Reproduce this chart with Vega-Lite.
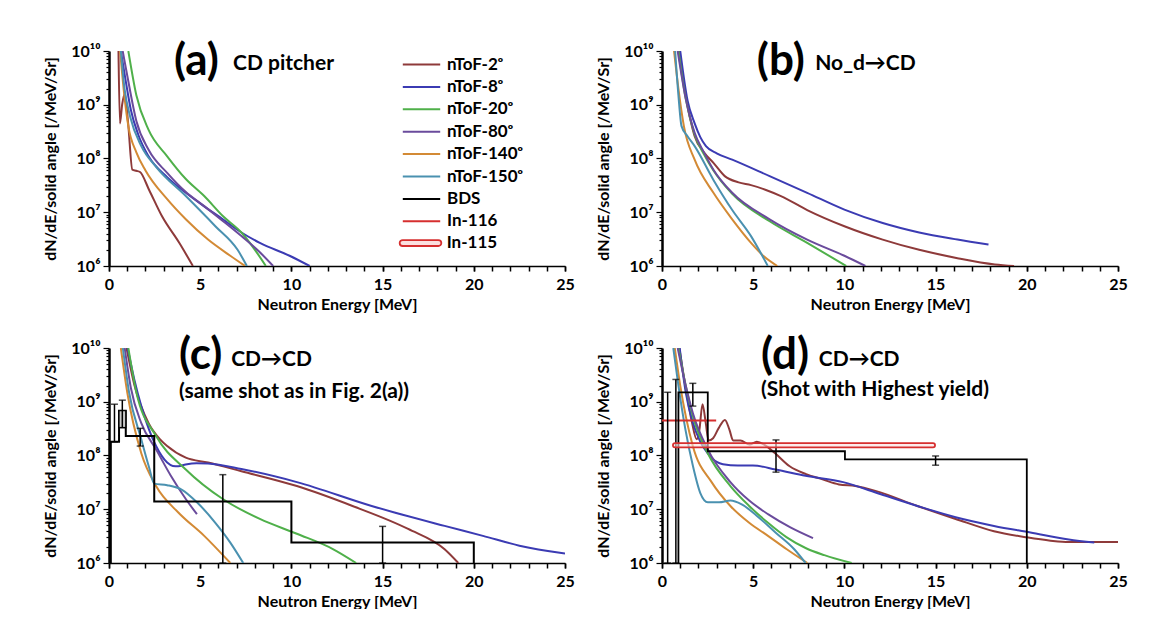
{
  "$schema": "https://vega.github.io/schema/vega-lite/v6.json",
  "padding": {"left": 42, "top": 39, "right": 0, "bottom": 0},
  "background": "white",
  "columns": 2,
  "spacing": {"row": 82, "column": 97},
  "bounds": "flush",
  "datasets": {
    "curves": [
      {"p":"a","s":"nToF-2ᵒ","E":0.52,"v":1e10},{"p":"a","s":"nToF-2ᵒ","E":0.6,"v":4.5e8},{"p":"a","s":"nToF-2ᵒ","E":0.72,"v":1e9},{"p":"a","s":"nToF-2ᵒ","E":0.87,"v":1.6e9},{"p":"a","s":"nToF-2ᵒ","E":1.05,"v":4.5e8},{"p":"a","s":"nToF-2ᵒ","E":1.28,"v":6.2e7},{"p":"a","s":"nToF-2ᵒ","E":1.5,"v":5.9e7},{"p":"a","s":"nToF-2ᵒ","E":1.7,"v":5.6e7},{"p":"a","s":"nToF-2ᵒ","E":2.2,"v":2.6e7},{"p":"a","s":"nToF-2ᵒ","E":2.9,"v":8.5e6},{"p":"a","s":"nToF-2ᵒ","E":3.85,"v":2.7e6},{"p":"a","s":"nToF-2ᵒ","E":4.6,"v":1e6},
      {"p":"a","s":"nToF-8ᵒ","E":0.65,"v":1e10},{"p":"a","s":"nToF-8ᵒ","E":0.9,"v":3e9},{"p":"a","s":"nToF-8ᵒ","E":1.2,"v":8e8},{"p":"a","s":"nToF-8ᵒ","E":1.6,"v":2.8e8},{"p":"a","s":"nToF-8ᵒ","E":2.17,"v":1.1e8},{"p":"a","s":"nToF-8ᵒ","E":3.19,"v":4.5e7},{"p":"a","s":"nToF-8ᵒ","E":4.21,"v":2.3e7},{"p":"a","s":"nToF-8ᵒ","E":5.2,"v":1.3e7},{"p":"a","s":"nToF-8ᵒ","E":6.24,"v":7.4e6},{"p":"a","s":"nToF-8ᵒ","E":7.26,"v":4.2e6},{"p":"a","s":"nToF-8ᵒ","E":8.27,"v":2.7e6},{"p":"a","s":"nToF-8ᵒ","E":9.9,"v":1.55e6},{"p":"a","s":"nToF-8ᵒ","E":11.0,"v":1e6},
      {"p":"a","s":"nToF-20ᵒ","E":1.06,"v":1e10},{"p":"a","s":"nToF-20ᵒ","E":1.5,"v":1.5e9},{"p":"a","s":"nToF-20ᵒ","E":2.17,"v":3.4e8},{"p":"a","s":"nToF-20ᵒ","E":3.19,"v":1.1e8},{"p":"a","s":"nToF-20ᵒ","E":4.2,"v":4.2e7},{"p":"a","s":"nToF-20ᵒ","E":5.22,"v":2e7},{"p":"a","s":"nToF-20ᵒ","E":6.24,"v":8.5e6},{"p":"a","s":"nToF-20ᵒ","E":7.26,"v":4.2e6},{"p":"a","s":"nToF-20ᵒ","E":8.0,"v":2e6},{"p":"a","s":"nToF-20ᵒ","E":8.6,"v":1e6},
      {"p":"a","s":"nToF-80ᵒ","E":0.75,"v":1e10},{"p":"a","s":"nToF-80ᵒ","E":1.0,"v":3.5e9},{"p":"a","s":"nToF-80ᵒ","E":1.5,"v":5e8},{"p":"a","s":"nToF-80ᵒ","E":2.17,"v":1.45e8},{"p":"a","s":"nToF-80ᵒ","E":3.19,"v":5.4e7},{"p":"a","s":"nToF-80ᵒ","E":4.2,"v":2.4e7},{"p":"a","s":"nToF-80ᵒ","E":5.22,"v":1.3e7},{"p":"a","s":"nToF-80ᵒ","E":6.24,"v":6.9e6},{"p":"a","s":"nToF-80ᵒ","E":7.26,"v":3.6e6},{"p":"a","s":"nToF-80ᵒ","E":8.2,"v":1.9e6},{"p":"a","s":"nToF-80ᵒ","E":9.0,"v":1e6},
      {"p":"a","s":"nToF-140ᵒ","E":0.61,"v":1e10},{"p":"a","s":"nToF-140ᵒ","E":0.8,"v":2e9},{"p":"a","s":"nToF-140ᵒ","E":1.06,"v":4e8},{"p":"a","s":"nToF-140ᵒ","E":1.5,"v":1.3e8},{"p":"a","s":"nToF-140ᵒ","E":2.0,"v":6e7},{"p":"a","s":"nToF-140ᵒ","E":3.19,"v":1.75e7},{"p":"a","s":"nToF-140ᵒ","E":4.21,"v":7.4e6},{"p":"a","s":"nToF-140ᵒ","E":5.43,"v":3.1e6},{"p":"a","s":"nToF-140ᵒ","E":6.65,"v":1.55e6},{"p":"a","s":"nToF-140ᵒ","E":7.46,"v":1e6},
      {"p":"a","s":"nToF-150ᵒ","E":0.65,"v":1e10},{"p":"a","s":"nToF-150ᵒ","E":0.85,"v":2e9},{"p":"a","s":"nToF-150ᵒ","E":1.16,"v":6e8},{"p":"a","s":"nToF-150ᵒ","E":1.77,"v":1.7e8},{"p":"a","s":"nToF-150ᵒ","E":2.58,"v":7e7},{"p":"a","s":"nToF-150ᵒ","E":4.21,"v":2e7},{"p":"a","s":"nToF-150ᵒ","E":5.83,"v":5.5e6},{"p":"a","s":"nToF-150ᵒ","E":7.05,"v":2e6},{"p":"a","s":"nToF-150ᵒ","E":7.56,"v":1e6},

      {"p":"b","s":"nToF-2ᵒ","E":0.93,"v":1e10},{"p":"b","s":"nToF-2ᵒ","E":1.3,"v":1.5e9},{"p":"b","s":"nToF-2ᵒ","E":1.79,"v":2.6e8},{"p":"b","s":"nToF-2ᵒ","E":2.3,"v":1.3e8},{"p":"b","s":"nToF-2ᵒ","E":2.82,"v":8.3e7},{"p":"b","s":"nToF-2ᵒ","E":3.44,"v":4.7e7},{"p":"b","s":"nToF-2ᵒ","E":4.2,"v":3.6e7},{"p":"b","s":"nToF-2ᵒ","E":4.88,"v":3.2e7},{"p":"b","s":"nToF-2ᵒ","E":5.7,"v":2.6e7},{"p":"b","s":"nToF-2ᵒ","E":6.52,"v":2e7},{"p":"b","s":"nToF-2ᵒ","E":7.96,"v":1.1e7},{"p":"b","s":"nToF-2ᵒ","E":10.0,"v":5.5e6},{"p":"b","s":"nToF-2ᵒ","E":12.1,"v":3.1e6},{"p":"b","s":"nToF-2ᵒ","E":14.1,"v":2e6},{"p":"b","s":"nToF-2ᵒ","E":16.2,"v":1.4e6},{"p":"b","s":"nToF-2ᵒ","E":18.25,"v":1.07e6},{"p":"b","s":"nToF-2ᵒ","E":19.3,"v":1e6},
      {"p":"b","s":"nToF-8ᵒ","E":1.0,"v":1e10},{"p":"b","s":"nToF-8ᵒ","E":1.4,"v":1.2e9},{"p":"b","s":"nToF-8ᵒ","E":1.79,"v":4.5e8},{"p":"b","s":"nToF-8ᵒ","E":2.1,"v":2.5e8},{"p":"b","s":"nToF-8ᵒ","E":2.41,"v":1.7e8},{"p":"b","s":"nToF-8ᵒ","E":3.0,"v":1.25e8},{"p":"b","s":"nToF-8ᵒ","E":3.85,"v":9.5e7},{"p":"b","s":"nToF-8ᵒ","E":5.9,"v":4.7e7},{"p":"b","s":"nToF-8ᵒ","E":7.96,"v":2.3e7},{"p":"b","s":"nToF-8ᵒ","E":10.0,"v":1.12e7},{"p":"b","s":"nToF-8ᵒ","E":12.1,"v":6.3e6},{"p":"b","s":"nToF-8ᵒ","E":14.1,"v":4.2e6},{"p":"b","s":"nToF-8ᵒ","E":16.2,"v":3.1e6},{"p":"b","s":"nToF-8ᵒ","E":17.9,"v":2.5e6},
      {"p":"b","s":"nToF-20ᵒ","E":0.9,"v":1e10},{"p":"b","s":"nToF-20ᵒ","E":1.3,"v":1.3e9},{"p":"b","s":"nToF-20ᵒ","E":1.79,"v":2.8e8},{"p":"b","s":"nToF-20ᵒ","E":2.3,"v":1.2e8},{"p":"b","s":"nToF-20ᵒ","E":2.82,"v":6e7},{"p":"b","s":"nToF-20ᵒ","E":3.85,"v":2.2e7},{"p":"b","s":"nToF-20ᵒ","E":5.9,"v":6.8e6},{"p":"b","s":"nToF-20ᵒ","E":7.96,"v":2.7e6},{"p":"b","s":"nToF-20ᵒ","E":10.1,"v":1e6},
      {"p":"b","s":"nToF-80ᵒ","E":0.86,"v":1e10},{"p":"b","s":"nToF-80ᵒ","E":1.3,"v":1.3e9},{"p":"b","s":"nToF-80ᵒ","E":1.79,"v":3e8},{"p":"b","s":"nToF-80ᵒ","E":2.3,"v":1.3e8},{"p":"b","s":"nToF-80ᵒ","E":2.82,"v":6.2e7},{"p":"b","s":"nToF-80ᵒ","E":3.85,"v":2.3e7},{"p":"b","s":"nToF-80ᵒ","E":5.9,"v":7.4e6},{"p":"b","s":"nToF-80ᵒ","E":7.96,"v":3.1e6},{"p":"b","s":"nToF-80ᵒ","E":10.0,"v":1.55e6},{"p":"b","s":"nToF-80ᵒ","E":11.15,"v":1e6},
      {"p":"b","s":"nToF-140ᵒ","E":0.66,"v":1e10},{"p":"b","s":"nToF-140ᵒ","E":0.9,"v":2e9},{"p":"b","s":"nToF-140ᵒ","E":1.2,"v":4e8},{"p":"b","s":"nToF-140ᵒ","E":1.79,"v":9.5e7},{"p":"b","s":"nToF-140ᵒ","E":2.82,"v":2.3e7},{"p":"b","s":"nToF-140ᵒ","E":3.85,"v":7.4e6},{"p":"b","s":"nToF-140ᵒ","E":4.88,"v":2.7e6},{"p":"b","s":"nToF-140ᵒ","E":5.6,"v":1.5e6},{"p":"b","s":"nToF-140ᵒ","E":6.32,"v":1e6},
      {"p":"b","s":"nToF-150ᵒ","E":0.72,"v":1e10},{"p":"b","s":"nToF-150ᵒ","E":0.9,"v":1.5e9},{"p":"b","s":"nToF-150ᵒ","E":1.07,"v":4e8},{"p":"b","s":"nToF-150ᵒ","E":1.4,"v":2.6e8},{"p":"b","s":"nToF-150ᵒ","E":1.79,"v":1.7e8},{"p":"b","s":"nToF-150ᵒ","E":2.82,"v":4e7},{"p":"b","s":"nToF-150ᵒ","E":3.85,"v":1.1e7},{"p":"b","s":"nToF-150ᵒ","E":4.88,"v":3.6e6},{"p":"b","s":"nToF-150ᵒ","E":5.8,"v":1e6},

      {"p":"c","s":"nToF-2ᵒ","E":0.96,"v":1e10},{"p":"c","s":"nToF-2ᵒ","E":1.4,"v":2e9},{"p":"c","s":"nToF-2ᵒ","E":2.17,"v":4e8},{"p":"c","s":"nToF-2ᵒ","E":2.8,"v":2e8},{"p":"c","s":"nToF-2ᵒ","E":3.19,"v":1.5e8},{"p":"c","s":"nToF-2ᵒ","E":4.21,"v":9.1e7},{"p":"c","s":"nToF-2ᵒ","E":5.43,"v":7.4e7},{"p":"c","s":"nToF-2ᵒ","E":7.26,"v":5.1e7},{"p":"c","s":"nToF-2ᵒ","E":10.3,"v":2.7e7},{"p":"c","s":"nToF-2ᵒ","E":13.35,"v":1.15e7},{"p":"c","s":"nToF-2ᵒ","E":16.4,"v":4.3e6},{"p":"c","s":"nToF-2ᵒ","E":18.4,"v":1.8e6},{"p":"c","s":"nToF-2ᵒ","E":19.15,"v":1e6},
      {"p":"c","s":"nToF-8ᵒ","E":1.02,"v":1e10},{"p":"c","s":"nToF-8ᵒ","E":1.4,"v":2.5e9},{"p":"c","s":"nToF-8ᵒ","E":1.77,"v":8.3e8},{"p":"c","s":"nToF-8ᵒ","E":2.2,"v":3e8},{"p":"c","s":"nToF-8ᵒ","E":2.58,"v":1.5e8},{"p":"c","s":"nToF-8ᵒ","E":3.19,"v":7.4e7},{"p":"c","s":"nToF-8ᵒ","E":3.5,"v":6.4e7},{"p":"c","s":"nToF-8ᵒ","E":3.8,"v":6.3e7},{"p":"c","s":"nToF-8ᵒ","E":4.2,"v":6.8e7},{"p":"c","s":"nToF-8ᵒ","E":4.8,"v":7.2e7},{"p":"c","s":"nToF-8ᵒ","E":5.43,"v":7.1e7},{"p":"c","s":"nToF-8ᵒ","E":7.26,"v":5.6e7},{"p":"c","s":"nToF-8ᵒ","E":10.3,"v":3.2e7},{"p":"c","s":"nToF-8ᵒ","E":14.4,"v":1.15e7},{"p":"c","s":"nToF-8ᵒ","E":18.4,"v":4.9e6},{"p":"c","s":"nToF-8ᵒ","E":20.5,"v":3.2e6},{"p":"c","s":"nToF-8ᵒ","E":22.5,"v":2.1e6},{"p":"c","s":"nToF-8ᵒ","E":25,"v":1.5e6},
      {"p":"c","s":"nToF-20ᵒ","E":1.06,"v":1e10},{"p":"c","s":"nToF-20ᵒ","E":1.5,"v":1.5e9},{"p":"c","s":"nToF-20ᵒ","E":2.58,"v":2.3e8},{"p":"c","s":"nToF-20ᵒ","E":4.21,"v":5.5e7},{"p":"c","s":"nToF-20ᵒ","E":6.24,"v":1.55e7},{"p":"c","s":"nToF-20ᵒ","E":8.27,"v":6.6e6},{"p":"c","s":"nToF-20ᵒ","E":10.3,"v":3.5e6},{"p":"c","s":"nToF-20ᵒ","E":12.3,"v":1.8e6},{"p":"c","s":"nToF-20ᵒ","E":13.55,"v":1e6},
      {"p":"c","s":"nToF-80ᵒ","E":0.86,"v":1e10},{"p":"c","s":"nToF-80ᵒ","E":1.2,"v":1.8e9},{"p":"c","s":"nToF-80ᵒ","E":1.77,"v":4e8},{"p":"c","s":"nToF-80ᵒ","E":2.58,"v":1.3e8},{"p":"c","s":"nToF-80ᵒ","E":3.39,"v":4.2e7},{"p":"c","s":"nToF-80ᵒ","E":4.21,"v":1.55e7},{"p":"c","s":"nToF-80ᵒ","E":4.82,"v":8.1e6},
      {"p":"c","s":"nToF-140ᵒ","E":0.65,"v":1e10},{"p":"c","s":"nToF-140ᵒ","E":1.0,"v":1.5e9},{"p":"c","s":"nToF-140ᵒ","E":1.77,"v":1.1e8},{"p":"c","s":"nToF-140ᵒ","E":2.58,"v":2.7e7},{"p":"c","s":"nToF-140ᵒ","E":3.8,"v":8.7e6},{"p":"c","s":"nToF-140ᵒ","E":5.22,"v":3.2e6},{"p":"c","s":"nToF-140ᵒ","E":6.65,"v":1e6},
      {"p":"c","s":"nToF-150ᵒ","E":0.76,"v":1e10},{"p":"c","s":"nToF-150ᵒ","E":1.1,"v":1.5e9},{"p":"c","s":"nToF-150ᵒ","E":1.77,"v":2e8},{"p":"c","s":"nToF-150ᵒ","E":2.2,"v":6e7},{"p":"c","s":"nToF-150ᵒ","E":2.48,"v":3e7},{"p":"c","s":"nToF-150ᵒ","E":3.19,"v":2.8e7},{"p":"c","s":"nToF-150ᵒ","E":4.0,"v":2.3e7},{"p":"c","s":"nToF-150ᵒ","E":4.82,"v":1.35e7},{"p":"c","s":"nToF-150ᵒ","E":5.83,"v":5.6e6},{"p":"c","s":"nToF-150ᵒ","E":6.65,"v":2.4e6},{"p":"c","s":"nToF-150ᵒ","E":7.36,"v":1e6},

      {"p":"d","s":"nToF-2ᵒ","E":0.95,"v":1e10},{"p":"d","s":"nToF-2ᵒ","E":1.3,"v":1.8e9},{"p":"d","s":"nToF-2ᵒ","E":1.65,"v":4e8},{"p":"d","s":"nToF-2ᵒ","E":1.9,"v":2e8},{"p":"d","s":"nToF-2ᵒ","E":2.05,"v":3e8},{"p":"d","s":"nToF-2ᵒ","E":2.22,"v":9e8},{"p":"d","s":"nToF-2ᵒ","E":2.4,"v":4e8},{"p":"d","s":"nToF-2ᵒ","E":2.55,"v":1.9e8},{"p":"d","s":"nToF-2ᵒ","E":2.8,"v":2.1e8},{"p":"d","s":"nToF-2ᵒ","E":3.1,"v":3.2e8},{"p":"d","s":"nToF-2ᵒ","E":3.45,"v":4.6e8},{"p":"d","s":"nToF-2ᵒ","E":3.7,"v":3e8},{"p":"d","s":"nToF-2ᵒ","E":3.9,"v":1.9e8},{"p":"d","s":"nToF-2ᵒ","E":4.3,"v":1.9e8},{"p":"d","s":"nToF-2ᵒ","E":4.8,"v":1.6e8},{"p":"d","s":"nToF-2ᵒ","E":5.2,"v":1.8e8},{"p":"d","s":"nToF-2ᵒ","E":5.6,"v":1.6e8},{"p":"d","s":"nToF-2ᵒ","E":6.2,"v":1.1e8},{"p":"d","s":"nToF-2ᵒ","E":7.0,"v":6.3e7},{"p":"d","s":"nToF-2ᵒ","E":7.9,"v":4.5e7},{"p":"d","s":"nToF-2ᵒ","E":8.8,"v":3.6e7},{"p":"d","s":"nToF-2ᵒ","E":9.7,"v":2.9e7},{"p":"d","s":"nToF-2ᵒ","E":10.6,"v":2.7e7},{"p":"d","s":"nToF-2ᵒ","E":11.7,"v":2.2e7},{"p":"d","s":"nToF-2ᵒ","E":14.0,"v":1.15e7},{"p":"d","s":"nToF-2ᵒ","E":16.1,"v":6.6e6},{"p":"d","s":"nToF-2ᵒ","E":18.2,"v":3.9e6},{"p":"d","s":"nToF-2ᵒ","E":20.0,"v":3e6},{"p":"d","s":"nToF-2ᵒ","E":21.3,"v":2.6e6},{"p":"d","s":"nToF-2ᵒ","E":22.3,"v":2.45e6},{"p":"d","s":"nToF-2ᵒ","E":25,"v":2.45e6},
      {"p":"d","s":"nToF-8ᵒ","E":0.97,"v":1e10},{"p":"d","s":"nToF-8ᵒ","E":1.3,"v":1.5e9},{"p":"d","s":"nToF-8ᵒ","E":1.69,"v":4.1e8},{"p":"d","s":"nToF-8ᵒ","E":2.1,"v":1.8e8},{"p":"d","s":"nToF-8ᵒ","E":2.51,"v":1.1e8},{"p":"d","s":"nToF-8ᵒ","E":3.0,"v":7.6e7},{"p":"d","s":"nToF-8ᵒ","E":3.34,"v":6.9e7},{"p":"d","s":"nToF-8ᵒ","E":4.16,"v":6.5e7},{"p":"d","s":"nToF-8ᵒ","E":4.98,"v":6.5e7},{"p":"d","s":"nToF-8ᵒ","E":6.22,"v":5.5e7},{"p":"d","s":"nToF-8ᵒ","E":7.87,"v":4.2e7},{"p":"d","s":"nToF-8ᵒ","E":9.93,"v":3.2e7},{"p":"d","s":"nToF-8ᵒ","E":12.0,"v":1.9e7},{"p":"d","s":"nToF-8ᵒ","E":14.0,"v":1.15e7},{"p":"d","s":"nToF-8ᵒ","E":16.1,"v":7.1e6},{"p":"d","s":"nToF-8ᵒ","E":18.2,"v":4.9e6},{"p":"d","s":"nToF-8ᵒ","E":20.2,"v":3.7e6},{"p":"d","s":"nToF-8ᵒ","E":22.3,"v":2.75e6},{"p":"d","s":"nToF-8ᵒ","E":23.7,"v":2.4e6},
      {"p":"d","s":"nToF-20ᵒ","E":0.9,"v":1e10},{"p":"d","s":"nToF-20ᵒ","E":1.3,"v":2e9},{"p":"d","s":"nToF-20ᵒ","E":1.69,"v":5.4e8},{"p":"d","s":"nToF-20ᵒ","E":2.51,"v":1.1e8},{"p":"d","s":"nToF-20ᵒ","E":3.75,"v":2.7e7},{"p":"d","s":"nToF-20ᵒ","E":4.78,"v":1.15e7},{"p":"d","s":"nToF-20ᵒ","E":5.81,"v":5.6e6},{"p":"d","s":"nToF-20ᵒ","E":6.84,"v":3e6},{"p":"d","s":"nToF-20ᵒ","E":7.87,"v":1.9e6},{"p":"d","s":"nToF-20ᵒ","E":8.9,"v":1.4e6},{"p":"d","s":"nToF-20ᵒ","E":10.4,"v":1e6},
      {"p":"d","s":"nToF-80ᵒ","E":0.86,"v":1e10},{"p":"d","s":"nToF-80ᵒ","E":1.3,"v":2e9},{"p":"d","s":"nToF-80ᵒ","E":1.69,"v":6.2e8},{"p":"d","s":"nToF-80ᵒ","E":2.51,"v":1.3e8},{"p":"d","s":"nToF-80ᵒ","E":3.75,"v":3.2e7},{"p":"d","s":"nToF-80ᵒ","E":4.78,"v":1.45e7},{"p":"d","s":"nToF-80ᵒ","E":5.81,"v":8.1e6},{"p":"d","s":"nToF-80ᵒ","E":7.04,"v":4.6e6},{"p":"d","s":"nToF-80ᵒ","E":8.28,"v":2.9e6},
      {"p":"d","s":"nToF-140ᵒ","E":0.7,"v":1e10},{"p":"d","s":"nToF-140ᵒ","E":1.0,"v":2e9},{"p":"d","s":"nToF-140ᵒ","E":1.69,"v":1.5e8},{"p":"d","s":"nToF-140ᵒ","E":2.72,"v":3.2e7},{"p":"d","s":"nToF-140ᵒ","E":3.75,"v":1.15e7},{"p":"d","s":"nToF-140ᵒ","E":4.78,"v":5.6e6},{"p":"d","s":"nToF-140ᵒ","E":5.81,"v":3.2e6},{"p":"d","s":"nToF-140ᵒ","E":6.84,"v":1.8e6},{"p":"d","s":"nToF-140ᵒ","E":7.97,"v":1e6},
      {"p":"d","s":"nToF-150ᵒ","E":0.62,"v":1e10},{"p":"d","s":"nToF-150ᵒ","E":0.9,"v":2e9},{"p":"d","s":"nToF-150ᵒ","E":1.28,"v":3.1e8},{"p":"d","s":"nToF-150ᵒ","E":1.69,"v":6.5e7},{"p":"d","s":"nToF-150ᵒ","E":2.1,"v":2e7},{"p":"d","s":"nToF-150ᵒ","E":2.51,"v":1.35e7},{"p":"d","s":"nToF-150ᵒ","E":3.13,"v":1.35e7},{"p":"d","s":"nToF-150ᵒ","E":3.75,"v":1.45e7},{"p":"d","s":"nToF-150ᵒ","E":4.37,"v":1.23e7},{"p":"d","s":"nToF-150ᵒ","E":5.19,"v":7.6e6},{"p":"d","s":"nToF-150ᵒ","E":6.22,"v":3.7e6},{"p":"d","s":"nToF-150ᵒ","E":7.25,"v":1.8e6},{"p":"d","s":"nToF-150ᵒ","E":7.87,"v":1e6},
      {"p":"d","s":"In-116","E":0,"v":4.5e8},{"p":"d","s":"In-116","E":2.97,"v":4.5e8}
    ],
    "bds": [
      {"p":"c","s":"BDS","o":1,"E":0.1,"v":1e6},{"p":"c","s":"BDS","o":2,"E":0.1,"v":1.8e8},{"p":"c","s":"BDS","o":3,"E":0.55,"v":1.8e8},{"p":"c","s":"BDS","o":4,"E":0.55,"v":6.8e8},{"p":"c","s":"BDS","o":5,"E":0.92,"v":6.8e8},{"p":"c","s":"BDS","o":6,"E":0.92,"v":2.3e8},{"p":"c","s":"BDS","o":7,"E":2.48,"v":2.3e8},{"p":"c","s":"BDS","o":8,"E":2.48,"v":1.4e7},{"p":"c","s":"BDS","o":9,"E":10,"v":1.4e7},{"p":"c","s":"BDS","o":10,"E":10,"v":2.4e6},{"p":"c","s":"BDS","o":11,"E":20,"v":2.4e6},{"p":"c","s":"BDS","o":12,"E":20,"v":1e6},
      {"p":"d","s":"BDS","o":1,"E":0.9,"v":1e6},{"p":"d","s":"BDS","o":2,"E":0.9,"v":1.5e9},{"p":"d","s":"BDS","o":3,"E":2.51,"v":1.5e9},{"p":"d","s":"BDS","o":4,"E":2.51,"v":1.2e8},{"p":"d","s":"BDS","o":5,"E":10.03,"v":1.2e8},{"p":"d","s":"BDS","o":6,"E":10.03,"v":8.5e7},{"p":"d","s":"BDS","o":7,"E":20,"v":8.5e7},{"p":"d","s":"BDS","o":8,"E":20,"v":1e6}
    ],
    "err": [
      {"p":"c","E":0.3,"v":1.8e8,"v2":9e8},{"p":"c","E":0.73,"v":3.3e8,"v2":1.07e9},{"p":"c","E":1.71,"v":1.5e8,"v2":3.2e8},{"p":"c","E":6.24,"v":1e6,"v2":4.4e7},{"p":"c","E":15.0,"v":1e6,"v2":4.8e6},
      {"p":"d","E":0.31,"v":1e6,"v2":1.5e9},{"p":"d","E":0.76,"v":1e6,"v2":2.6e9},{"p":"d","E":1.69,"v":8.3e8,"v2":2.2e9},{"p":"d","E":6.25,"v":4.9e7,"v2":1.95e8},{"p":"d","E":15.0,"v":6.6e7,"v2":9.8e7}
    ],
    "box": [
      {"p":"c","E":0.55,"E2":0.92,"v":3.3e8,"v2":6.8e8}
    ],
    "in115": [
      {"p":"d","s":"In-115","E":0.6,"E2":14.97,"v":1.42e8,"v2":1.7e8}
    ],
    "labels": [
      {"p":"a","k":"big","t":"(a)","E":3.56,"v":6.3e9},{"p":"a","k":"small","t":"CD pitcher","E":6.8,"v":5.7e9},
      {"p":"b","k":"big","t":"(b)","E":5.2,"v":6.3e9},{"p":"b","k":"small","t":"No_d→CD","E":8.4,"v":5.7e9},
      {"p":"c","k":"big","t":"(c)","E":3.84,"v":7e9},{"p":"c","k":"small","t":"CD→CD","E":6.7,"v":6e9},{"p":"c","k":"small","t":"(same shot as in Fig. 2(a))","E":3.84,"v":1.55e9},
      {"p":"d","k":"big","t":"(d)","E":5.43,"v":7e9},{"p":"d","k":"small","t":"CD→CD","E":8.6,"v":6e9},{"p":"d","k":"small","t":"(Shot with Highest yield)","E":5.43,"v":1.65e9}
    ]
  },
  "concat": [
    {
      "width": 456, "height": 215,
      "resolve": {"axis": {"x": "independent"}},
      "layer": [
        {"data":{"name":"curves"},"transform":[{"filter":"datum.p == 'a'"}],
         "mark":{"type":"line","strokeWidth":2,"clip":true,"interpolate":"monotone"},
         "encoding":{
           "x":{"field":"E","type":"quantitative","scale":{"domain":[0,25],"nice":false,"zero":false},"axis":{"title":"Neutron Energy [MeV]","orient":"bottom","values":[0,5,10,15,20,25]}},
           "y":{"field":"v","type":"quantitative","scale":{"type":"log","domain":[1e6,1e10],"nice":false},"axis":{"title":"dN/dE/solid angle [/MeV/Sr]","values":[1e6,2e6,3e6,4e6,5e6,6e6,7e6,8e6,9e6,1e7,2e7,3e7,4e7,5e7,6e7,7e7,8e7,9e7,1e8,2e8,3e8,4e8,5e8,6e8,7e8,8e8,9e8,1e9,2e9,3e9,4e9,5e9,6e9,7e9,8e9,9e9,1e10],"labelExpr":"datum.value == 10000000000 ? '10¹⁰' : datum.value == 1000000000 ? '10⁹' : datum.value == 100000000 ? '10⁸' : datum.value == 10000000 ? '10⁷' : datum.value == 1000000 ? '10⁶' : ''","labelOverlap":"greedy","tickSize":{"condition":{"test":"abs(log(datum.value)/LN10 - round(log(datum.value)/LN10)) < 0.001","value":6},"value":3}}},
           "color":{"field":"s","type":"nominal","scale":{"domain":["nToF-2ᵒ","nToF-8ᵒ","nToF-20ᵒ","nToF-80ᵒ","nToF-140ᵒ","nToF-150ᵒ","BDS","In-116"],"range":["#8e3a3a","#3b3bb3","#4fb04a","#6a4b9c","#d38a35","#4a91b0","#000000","#d62f2f"]},
             "legend":{"title":null,"orient":"none","legendX":303,"legendY":4,"symbolType":"M-2.2,0H2.2","labelOffset":16,"rowPadding":4.4}}
         }},
        {"data":{"name":"labels"},"transform":[{"filter":"datum.p == 'a' && datum.k == 'big'"}],
         "mark":{"type":"text","align":"left","baseline":"middle","fontSize":44,"fontWeight":"bold","color":"black"},
         "encoding":{"x":{"field":"E","type":"quantitative","scale":{"domain":[0,25],"nice":false,"zero":false},"axis":{"title":null,"orient":"bottom","values":[0,1,2,3,4,5,6,7,8,9,10,11,12,13,14,15,16,17,18,19,20,21,22,23,24,25],"labels":false,"domain":false}},"y":{"field":"v","type":"quantitative","scale":{"type":"log","domain":[1e6,1e10],"nice":false}},"text":{"field":"t"}}},
        {"data":{"name":"labels"},"transform":[{"filter":"datum.p == 'a' && datum.k == 'small'"}],
         "mark":{"type":"text","align":"left","baseline":"middle","fontSize":21,"fontWeight":"bold","color":"black"},
         "encoding":{"x":{"field":"E","type":"quantitative","scale":{"domain":[0,25],"nice":false,"zero":false},"axis":null},"y":{"field":"v","type":"quantitative","scale":{"type":"log","domain":[1e6,1e10],"nice":false}},"text":{"field":"t"}}}
      ]
    },
    {
      "width": 456, "height": 215,
      "resolve": {"axis": {"x": "independent"}},
      "layer": [
        {"data":{"name":"curves"},"transform":[{"filter":"datum.p == 'b'"}],
         "mark":{"type":"line","strokeWidth":2,"clip":true,"interpolate":"monotone"},
         "encoding":{
           "x":{"field":"E","type":"quantitative","scale":{"domain":[0,25],"nice":false,"zero":false},"axis":{"title":"Neutron Energy [MeV]","orient":"bottom","values":[0,5,10,15,20,25]}},
           "y":{"field":"v","type":"quantitative","scale":{"type":"log","domain":[1e6,1e10],"nice":false},"axis":{"title":"dN/dE/solid angle [/MeV/Sr]","values":[1e6,2e6,3e6,4e6,5e6,6e6,7e6,8e6,9e6,1e7,2e7,3e7,4e7,5e7,6e7,7e7,8e7,9e7,1e8,2e8,3e8,4e8,5e8,6e8,7e8,8e8,9e8,1e9,2e9,3e9,4e9,5e9,6e9,7e9,8e9,9e9,1e10],"labelExpr":"datum.value == 10000000000 ? '10¹⁰' : datum.value == 1000000000 ? '10⁹' : datum.value == 100000000 ? '10⁸' : datum.value == 10000000 ? '10⁷' : datum.value == 1000000 ? '10⁶' : ''","labelOverlap":"greedy","tickSize":{"condition":{"test":"abs(log(datum.value)/LN10 - round(log(datum.value)/LN10)) < 0.001","value":6},"value":3}}},
           "color":{"field":"s","type":"nominal","scale":{"domain":["nToF-2ᵒ","nToF-8ᵒ","nToF-20ᵒ","nToF-80ᵒ","nToF-140ᵒ","nToF-150ᵒ","BDS","In-116"],"range":["#8e3a3a","#3b3bb3","#4fb04a","#6a4b9c","#d38a35","#4a91b0","#000000","#d62f2f"]}}
         }},
        {"data":{"name":"labels"},"transform":[{"filter":"datum.p == 'b' && datum.k == 'big'"}],
         "mark":{"type":"text","align":"left","baseline":"middle","fontSize":44,"fontWeight":"bold","color":"black"},
         "encoding":{"x":{"field":"E","type":"quantitative","scale":{"domain":[0,25],"nice":false,"zero":false},"axis":{"title":null,"orient":"bottom","values":[0,1,2,3,4,5,6,7,8,9,10,11,12,13,14,15,16,17,18,19,20,21,22,23,24,25],"labels":false,"domain":false}},"y":{"field":"v","type":"quantitative","scale":{"type":"log","domain":[1e6,1e10],"nice":false}},"text":{"field":"t"}}},
        {"data":{"name":"labels"},"transform":[{"filter":"datum.p == 'b' && datum.k == 'small'"}],
         "mark":{"type":"text","align":"left","baseline":"middle","fontSize":21,"fontWeight":"bold","color":"black"},
         "encoding":{"x":{"field":"E","type":"quantitative","scale":{"domain":[0,25],"nice":false,"zero":false},"axis":null},"y":{"field":"v","type":"quantitative","scale":{"type":"log","domain":[1e6,1e10],"nice":false}},"text":{"field":"t"}}}
      ]
    },
    {
      "width": 456, "height": 215,
      "resolve": {"axis": {"x": "independent"}},
      "layer": [
        {"data":{"name":"curves"},"transform":[{"filter":"datum.p == 'c'"}],
         "mark":{"type":"line","strokeWidth":2,"clip":true,"interpolate":"monotone"},
         "encoding":{
           "x":{"field":"E","type":"quantitative","scale":{"domain":[0,25],"nice":false,"zero":false},"axis":{"title":"Neutron Energy [MeV]","orient":"bottom","values":[0,5,10,15,20,25]}},
           "y":{"field":"v","type":"quantitative","scale":{"type":"log","domain":[1e6,1e10],"nice":false},"axis":{"title":"dN/dE/solid angle [/MeV/Sr]","values":[1e6,2e6,3e6,4e6,5e6,6e6,7e6,8e6,9e6,1e7,2e7,3e7,4e7,5e7,6e7,7e7,8e7,9e7,1e8,2e8,3e8,4e8,5e8,6e8,7e8,8e8,9e8,1e9,2e9,3e9,4e9,5e9,6e9,7e9,8e9,9e9,1e10],"labelExpr":"datum.value == 10000000000 ? '10¹⁰' : datum.value == 1000000000 ? '10⁹' : datum.value == 100000000 ? '10⁸' : datum.value == 10000000 ? '10⁷' : datum.value == 1000000 ? '10⁶' : ''","labelOverlap":"greedy","tickSize":{"condition":{"test":"abs(log(datum.value)/LN10 - round(log(datum.value)/LN10)) < 0.001","value":6},"value":3}}},
           "color":{"field":"s","type":"nominal","scale":{"domain":["nToF-2ᵒ","nToF-8ᵒ","nToF-20ᵒ","nToF-80ᵒ","nToF-140ᵒ","nToF-150ᵒ","BDS","In-116"],"range":["#8e3a3a","#3b3bb3","#4fb04a","#6a4b9c","#d38a35","#4a91b0","#000000","#d62f2f"]}}
         }},
        {"data":{"name":"bds"},"transform":[{"filter":"datum.p == 'c'"}],
         "mark":{"type":"line","strokeWidth":2,"clip":true},
         "encoding":{"x":{"field":"E","type":"quantitative","scale":{"domain":[0,25],"nice":false,"zero":false},"axis":null},"y":{"field":"v","type":"quantitative","scale":{"type":"log","domain":[1e6,1e10],"nice":false}},"order":{"field":"o","type":"quantitative"},
           "color":{"field":"s","type":"nominal","scale":{"domain":["nToF-2ᵒ","nToF-8ᵒ","nToF-20ᵒ","nToF-80ᵒ","nToF-140ᵒ","nToF-150ᵒ","BDS","In-116"],"range":["#8e3a3a","#3b3bb3","#4fb04a","#6a4b9c","#d38a35","#4a91b0","#000000","#d62f2f"]}}}},
        {"data":{"name":"box"},"transform":[{"filter":"datum.p == 'c'"}],
         "mark":{"type":"rect","fill":"#c9c9c9","stroke":"black","strokeWidth":1.2},
         "encoding":{"x":{"field":"E","type":"quantitative","scale":{"domain":[0,25],"nice":false,"zero":false},"axis":null},"x2":{"field":"E2"},"y":{"field":"v","type":"quantitative","scale":{"type":"log","domain":[1e6,1e10],"nice":false}},"y2":{"field":"v2"}}},
        {"data":{"name":"err"},"transform":[{"filter":"datum.p == 'c'"}],
         "mark":{"type":"errorbar","ticks":{"size":7,"thickness":1.5,"color":"black"},"rule":{"strokeWidth":1.5,"color":"black"}},
         "encoding":{"x":{"field":"E","type":"quantitative","scale":{"domain":[0,25],"nice":false,"zero":false},"axis":null},"y":{"field":"v","type":"quantitative","title":"dN/dE/solid angle [/MeV/Sr]","scale":{"type":"log","domain":[1e6,1e10],"nice":false}},"y2":{"field":"v2"}}},
        {"data":{"name":"labels"},"transform":[{"filter":"datum.p == 'c' && datum.k == 'big'"}],
         "mark":{"type":"text","align":"left","baseline":"middle","fontSize":44,"fontWeight":"bold","color":"black"},
         "encoding":{"x":{"field":"E","type":"quantitative","scale":{"domain":[0,25],"nice":false,"zero":false},"axis":{"title":null,"orient":"bottom","values":[0,1,2,3,4,5,6,7,8,9,10,11,12,13,14,15,16,17,18,19,20,21,22,23,24,25],"labels":false,"domain":false}},"y":{"field":"v","type":"quantitative","scale":{"type":"log","domain":[1e6,1e10],"nice":false}},"text":{"field":"t"}}},
        {"data":{"name":"labels"},"transform":[{"filter":"datum.p == 'c' && datum.k == 'small'"}],
         "mark":{"type":"text","align":"left","baseline":"middle","fontSize":21,"fontWeight":"bold","color":"black"},
         "encoding":{"x":{"field":"E","type":"quantitative","scale":{"domain":[0,25],"nice":false,"zero":false},"axis":null},"y":{"field":"v","type":"quantitative","scale":{"type":"log","domain":[1e6,1e10],"nice":false}},"text":{"field":"t"}}}
      ]
    },
    {
      "width": 456, "height": 215,
      "resolve": {"axis": {"x": "independent"}},
      "layer": [
        {"data":{"name":"curves"},"transform":[{"filter":"datum.p == 'd'"}],
         "mark":{"type":"line","strokeWidth":2,"clip":true,"interpolate":"monotone"},
         "encoding":{
           "x":{"field":"E","type":"quantitative","scale":{"domain":[0,25],"nice":false,"zero":false},"axis":{"title":"Neutron Energy [MeV]","orient":"bottom","values":[0,5,10,15,20,25]}},
           "y":{"field":"v","type":"quantitative","scale":{"type":"log","domain":[1e6,1e10],"nice":false},"axis":{"title":"dN/dE/solid angle [/MeV/Sr]","values":[1e6,2e6,3e6,4e6,5e6,6e6,7e6,8e6,9e6,1e7,2e7,3e7,4e7,5e7,6e7,7e7,8e7,9e7,1e8,2e8,3e8,4e8,5e8,6e8,7e8,8e8,9e8,1e9,2e9,3e9,4e9,5e9,6e9,7e9,8e9,9e9,1e10],"labelExpr":"datum.value == 10000000000 ? '10¹⁰' : datum.value == 1000000000 ? '10⁹' : datum.value == 100000000 ? '10⁸' : datum.value == 10000000 ? '10⁷' : datum.value == 1000000 ? '10⁶' : ''","labelOverlap":"greedy","tickSize":{"condition":{"test":"abs(log(datum.value)/LN10 - round(log(datum.value)/LN10)) < 0.001","value":6},"value":3}}},
           "color":{"field":"s","type":"nominal","scale":{"domain":["nToF-2ᵒ","nToF-8ᵒ","nToF-20ᵒ","nToF-80ᵒ","nToF-140ᵒ","nToF-150ᵒ","BDS","In-116"],"range":["#8e3a3a","#3b3bb3","#4fb04a","#6a4b9c","#d38a35","#4a91b0","#000000","#d62f2f"]}}
         }},
        {"data":{"name":"bds"},"transform":[{"filter":"datum.p == 'd'"}],
         "mark":{"type":"line","strokeWidth":1.8,"clip":true},
         "encoding":{"x":{"field":"E","type":"quantitative","scale":{"domain":[0,25],"nice":false,"zero":false},"axis":null},"y":{"field":"v","type":"quantitative","scale":{"type":"log","domain":[1e6,1e10],"nice":false}},"order":{"field":"o","type":"quantitative"},
           "color":{"field":"s","type":"nominal","scale":{"domain":["nToF-2ᵒ","nToF-8ᵒ","nToF-20ᵒ","nToF-80ᵒ","nToF-140ᵒ","nToF-150ᵒ","BDS","In-116"],"range":["#8e3a3a","#3b3bb3","#4fb04a","#6a4b9c","#d38a35","#4a91b0","#000000","#d62f2f"]}}}},
        {"data":{"name":"err"},"transform":[{"filter":"datum.p == 'd'"}],
         "mark":{"type":"errorbar","ticks":{"size":7,"thickness":1.5,"color":"black"},"rule":{"strokeWidth":1.5,"color":"black"}},
         "encoding":{"x":{"field":"E","type":"quantitative","scale":{"domain":[0,25],"nice":false,"zero":false},"axis":null},"y":{"field":"v","type":"quantitative","title":"dN/dE/solid angle [/MeV/Sr]","scale":{"type":"log","domain":[1e6,1e10],"nice":false}},"y2":{"field":"v2"}}},
        {"data":{"name":"in115"},"transform":[{"filter":"datum.p == 'd'"}],
         "mark":{"type":"rect","fill":"#fbe0e0","fillOpacity":0.6,"strokeWidth":1.8,"cornerRadius":3},
         "encoding":{"x":{"field":"E","type":"quantitative","scale":{"domain":[0,25],"nice":false,"zero":false},"axis":null},"x2":{"field":"E2"},"y":{"field":"v","type":"quantitative","scale":{"type":"log","domain":[1e6,1e10],"nice":false}},"y2":{"field":"v2"},
           "stroke":{"field":"s","type":"nominal","scale":{"domain":["In-115"],"range":["#d62f2f"]},
             "legend":{"title":null,"orient":"none","legendX":302,"legendY":182.5,"symbolType":"M-2.1,-0.35H2.1A0.35,0.35 0 0 1 2.1,0.35H-2.1A0.35,0.35 0 0 1 -2.1,-0.35Z","symbolFillColor":"white","symbolStrokeWidth":1.8,"labelOffset":16.7}}}},
        {"data":{"name":"labels"},"transform":[{"filter":"datum.p == 'd' && datum.k == 'big'"}],
         "mark":{"type":"text","align":"left","baseline":"middle","fontSize":44,"fontWeight":"bold","color":"black"},
         "encoding":{"x":{"field":"E","type":"quantitative","scale":{"domain":[0,25],"nice":false,"zero":false},"axis":{"title":null,"orient":"bottom","values":[0,1,2,3,4,5,6,7,8,9,10,11,12,13,14,15,16,17,18,19,20,21,22,23,24,25],"labels":false,"domain":false}},"y":{"field":"v","type":"quantitative","scale":{"type":"log","domain":[1e6,1e10],"nice":false}},"text":{"field":"t"}}},
        {"data":{"name":"labels"},"transform":[{"filter":"datum.p == 'd' && datum.k == 'small'"}],
         "mark":{"type":"text","align":"left","baseline":"middle","fontSize":21,"fontWeight":"bold","color":"black"},
         "encoding":{"x":{"field":"E","type":"quantitative","scale":{"domain":[0,25],"nice":false,"zero":false},"axis":null},"y":{"field":"v","type":"quantitative","scale":{"type":"log","domain":[1e6,1e10],"nice":false}},"text":{"field":"t"}}}
      ]
    }
  ],
  "config": {
    "font": "Lato",
    "view": {"stroke": null},
    "axis": {"grid": false, "domainColor": "black", "tickColor": "black", "labelColor": "black", "titleColor": "black", "labelFontWeight": "bold", "titleFontWeight": "bold", "labelFont": "Lato", "titleFont": "Lato"},
    "axisX": {"domainWidth": 1.5, "tickWidth": 1.5, "tickSize": 5, "labelFontSize": 16, "titleFontSize": 16, "labelPadding": 5, "titlePadding": 4, "labelAngle": 0, "labelFlush": false},
    "axisY": {"domainWidth": 2.5, "tickWidth": 1.2, "labelFontSize": 16, "titleFontSize": 16, "labelPadding": 3, "titlePadding": 12},
    "legend": {"symbolSize": 289, "symbolStrokeWidth": 2, "labelFontSize": 17, "labelFontWeight": "bold", "labelFont": "Lato", "labelColor": "black", "padding": 0, "rowPadding": 4.4}
  }
}
